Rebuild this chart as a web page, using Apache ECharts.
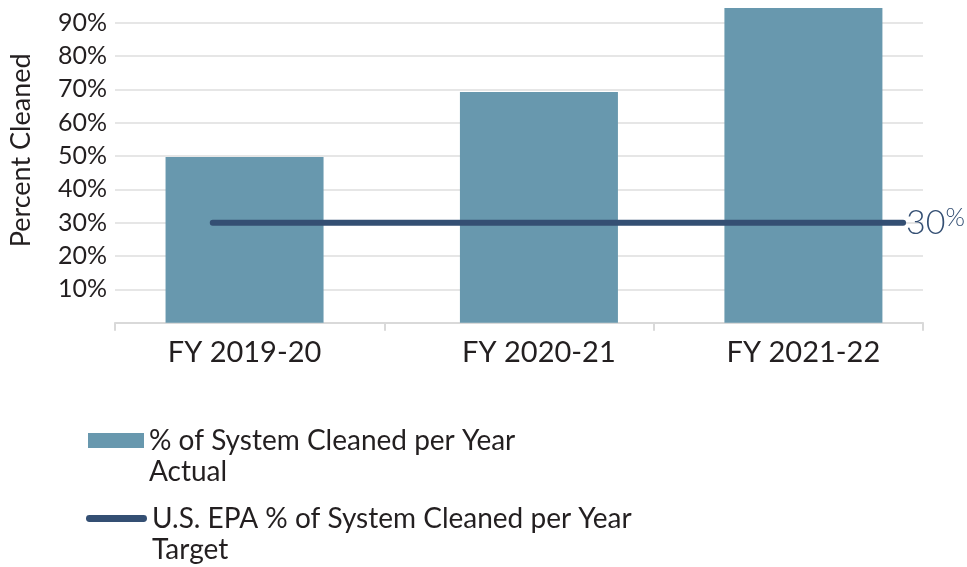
<!DOCTYPE html>
<html>
<head>
<meta charset="utf-8">
<script src="https://cdn.jsdelivr.net/npm/echarts@6/dist/echarts.min.js"></script>
<style>html,body{margin:0;padding:0;background:#fff}#c{width:967px;height:567px}</style>
</head>
<body>
<div id="c"></div>
<script>
// Data
var categories = ['FY 2019-20', 'FY 2020-21', 'FY 2021-22'];
var categoryPositions = [0.481, 1.574, 2.556]; // along a 0..3 category-span axis
var actualValues = [49.7, 69.2, 94.4];
var targetValue = 30;
var targetSpan = [0.363, 2.926];
var yTicks = [10, 20, 30, 40, 50, 60, 70, 80, 90];
var yMax = 96.8;
var seriesNames = ['% of System Cleaned per Year\nActual', 'U.S. EPA % of System Cleaned per Year\nTarget'];

var barColor = '#6898ae';
var lineColor = '#344f73';
var textColor = '#231f20';
var fontFam = 'Lato, "Noto Sans", sans-serif';

var splitColors = [];
for (var i = 0; i <= yTicks.length + 1; i++) splitColors.push(i <= yTicks.length ? '#e6e6e6' : 'rgba(0,0,0,0)');

var chart = echarts.init(document.getElementById('c'));
chart.setOption({
  animation: false,
  textStyle: { fontFamily: fontFam },
  grid: { left: 113, right: 44, top: 0, bottom: 567 - 322.7, containLabel: false },
  xAxis: {
    type: 'value', min: 0, max: 3, interval: 1,
    axisLine: { show: true, lineStyle: { color: '#d9d9d9', width: 2 } },
    axisTick: { show: true, length: 8, lineStyle: { color: '#d9d9d9', width: 2 } },
    axisLabel: { show: false },
    splitLine: { show: false }
  },
  yAxis: {
    type: 'value', min: 0, max: yMax, interval: 10,
    name: 'Percent Cleaned', nameLocation: 'middle', nameRotate: 90, nameGap: 80,
    nameTextStyle: { fontSize: 27, color: textColor, fontFamily: fontFam, padding: [0, 0, 0, 22] },
    axisLine: { show: false }, axisTick: { show: false },
    axisLabel: {
      fontSize: 25, color: textColor, margin: 8, fontFamily: fontFam,
      formatter: function (v) { return yTicks.indexOf(v) >= 0 ? v + '%' : ''; }
    },
    splitLine: { lineStyle: { color: splitColors, width: 2 } }
  },
  legend: [
    {
      data: [{ name: seriesNames[0], icon: 'rect' }], left: 88, top: 394, padding: 0, orient: 'vertical',
      itemWidth: 56, itemHeight: 15, itemGap: 0,
      formatter: function (n) { return ' \n' + n; },
      textStyle: { fontSize: 28, color: textColor, lineHeight: 31, fontFamily: fontFam }
    },
    {
      data: [{ name: seriesNames[1], icon: 'path://M3.5,0 L58.5,0 A3.5,3.5 0 0 1 58.5,7 L3.5,7 A3.5,3.5 0 0 1 3.5,0 Z' }],
      left: 86, top: 472, padding: 0, orient: 'vertical',
      itemWidth: 61, itemHeight: 7, itemGap: 0,
      itemStyle: { color: lineColor, borderWidth: 0 },
      formatter: function (n) { return ' \n' + n; },
      textStyle: { fontSize: 28, color: textColor, lineHeight: 31, fontFamily: fontFam }
    }
  ],
  series: [
    {
      name: seriesNames[0], type: 'bar', barWidth: 158,
      itemStyle: { color: barColor },
      label: {
        show: true, position: 'bottom', distance: 15, formatter: '{b}',
        fontSize: 29, color: textColor, fontFamily: fontFam
      },
      data: categories.map(function (c, i) { return { name: c, value: [categoryPositions[i], actualValues[i]] }; })
    },
    {
      name: seriesNames[1], type: 'line', symbol: 'none',
      lineStyle: { color: lineColor, width: 6, cap: 'round' },
      itemStyle: { color: lineColor },
      endLabel: {
        show: true, distance: 3,
        formatter: function (p) { return '{a|' + p.value[1] + '}{b|%}'; },
        rich: {
          a: { fontSize: 34, color: lineColor, fontWeight: 300, fontFamily: fontFam },
          b: { fontSize: 25, color: lineColor, fontWeight: 300, fontFamily: fontFam, verticalAlign: 'top', padding: [0, 0, 7, 0] }
        }
      },
      data: [[targetSpan[0], targetValue], [targetSpan[1], targetValue]]
    }
  ]
});
</script>
</body>
</html>
